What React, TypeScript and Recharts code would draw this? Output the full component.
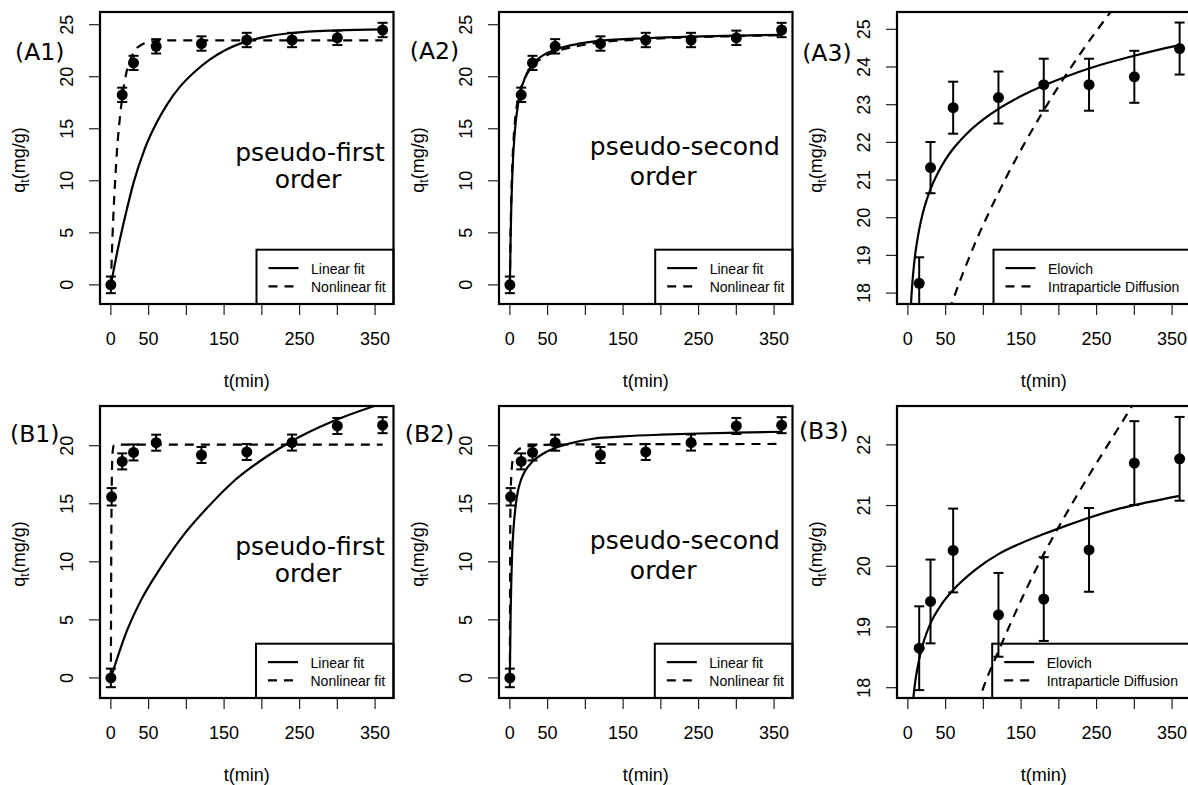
import { ComposedChart, ErrorBar, Line, Scatter, XAxis, YAxis } from 'recharts'

// measured points (t in min, q in mg/g) with error bar half-widths
const T_A = [0, 15, 30, 60, 120, 180, 240, 300, 360]
const Q_A = [0, 18.26, 21.33, 22.92, 23.19, 23.53, 23.53, 23.74, 24.49]
const ERR_A = [0.8, 0.69, 0.68, 0.69, 0.69, 0.69, 0.69, 0.69, 0.69]

const T_B = [0, 1, 15, 30, 60, 120, 180, 240, 300, 360]
const Q_B = [0, 15.6, 18.65, 19.42, 20.26, 19.2, 19.46, 20.27, 21.7, 21.77]
const ERR_B = [0.8, 0.75, 0.69, 0.69, 0.69, 0.69, 0.69, 0.69, 0.69, 0.69]

// fitted curves
const A1_LIN_T = [0, 10, 20, 30, 45, 60, 75, 90, 110, 130, 150, 180, 210, 240, 300, 360]
const A1_LIN_Q = [0, 3.7, 6.9, 9.8, 13.1, 15.5, 17.4, 18.9, 20.4, 21.6, 22.5, 23.4, 23.9, 24.2, 24.45, 24.55]
const A1_NL_T = [0, 2, 4, 6, 8, 10, 12, 15, 20, 25, 30, 35, 40, 50, 60, 80, 360]
const A1_NL_Q = [0, 4.3, 7.8, 10.4, 12.8, 14.6, 16.1, 18.0, 20.2, 21.5, 22.3, 22.8, 23.05, 23.34, 23.44, 23.5, 23.5]

const A2_LIN_T = [0, 1, 2, 3, 4, 6, 8, 11, 15, 20, 30, 45, 60, 90, 120, 180, 240, 300, 360]
const A2_LIN_Q = [0, 4.6, 7.8, 10.0, 11.8, 14.2, 15.8, 17.4, 18.8, 19.9, 21.2, 22.1, 22.6, 23.15, 23.45, 23.7, 23.85, 23.95, 24.03]
const A2_NL_T = [0, 1, 2, 3, 4, 6, 8, 11, 15, 20, 30, 45, 60, 90, 120, 180, 240, 300, 360]
const A2_NL_Q = [0, 5.2, 8.7, 11.0, 12.8, 15.1, 16.6, 17.9, 19.0, 19.9, 21.0, 21.9, 22.4, 22.95, 23.3, 23.6, 23.8, 23.9, 24.0]

const A3_ELO_T = [4, 5, 7, 10, 15, 20, 25, 30, 40, 50, 60, 70, 80, 100, 120, 150, 180, 210, 240, 270, 300, 330, 360]
const A3_ELO_Q = [17.66, 18.01, 18.52, 19.07, 19.69, 20.14, 20.48, 20.76, 21.2, 21.55, 21.83, 22.06, 22.27, 22.61, 22.89, 23.23, 23.51, 23.75, 23.96, 24.14, 24.3, 24.45, 24.58]
const A3_IPD_T = [55, 63, 75, 90, 107, 130, 155, 180, 213, 246, 270]
const A3_IPD_Q = [17.53, 18.0, 18.63, 19.37, 20.12, 21.06, 21.99, 22.85, 23.9, 24.85, 25.5]

const B1_LIN_T = [0, 10, 20, 40, 67, 98, 129, 162, 206, 237, 294, 346, 360]
const B1_LIN_Q = [0, 2.0, 3.85, 6.7, 9.6, 12.45, 14.75, 16.9, 19.05, 20.3, 22.1, 23.35, 23.65]
const B1_NL_T = [0, 0.5, 1, 1.5, 2, 3, 4, 6, 360]
const B1_NL_Q = [0, 10.5, 15.6, 18.0, 19.1, 19.8, 20.05, 20.1, 20.1]

const B2_LIN_T = [0, 1, 2, 3, 5, 8, 11, 15, 20, 30, 45, 60, 80, 110, 150, 200, 250, 300, 360]
const B2_LIN_Q = [0, 5.5, 8.6, 10.7, 13.0, 15.0, 16.2, 17.1, 17.8, 18.65, 19.35, 19.8, 20.2, 20.6, 20.8, 20.95, 21.05, 21.12, 21.2]
const B2_NL_T = [0, 0.5, 1, 2, 3, 5, 10, 20, 40, 60, 360]
const B2_NL_Q = [0, 12.5, 15.5, 17.5, 18.4, 19.1, 19.6, 19.9, 20.05, 20.1, 20.15]

const B3_ELO_T = [7, 8, 10, 15, 20, 30, 45, 60, 90, 120, 150, 180, 210, 240, 280, 320, 360]
const B3_ELO_Q = [17.8, 17.92, 18.12, 18.47, 18.72, 19.06, 19.38, 19.61, 19.95, 20.2, 20.38, 20.53, 20.67, 20.8, 20.95, 21.06, 21.16]
const B3_IPD_T = [92, 100, 120, 150, 180, 210, 240, 270, 300]
const B3_IPD_Q = [17.7, 18.0, 18.6, 19.44, 20.2, 20.87, 21.5, 22.1, 22.7]

const X_TICKS = [0, 50, 100, 150, 200, 250, 300, 350]
const X_LABELLED = [0, 50, 150, 250, 350]
const Y_TICKS_A = [0, 5, 10, 15, 20, 25]
const Y_TICKS_A3 = [18, 19, 20, 21, 22, 23, 24, 25]
const Y_TICKS_B = [0, 5, 10, 15, 20]
const Y_TICKS_B3 = [18, 19, 20, 21, 22]

const X_DOMAIN: [number, number] = [-14.4, 374.4]
const FONT = '"Liberation Sans", Arial, sans-serif'
const BIG_FONT = '"DejaVu Sans", sans-serif'
const W = 400
const H = 392
const BOX = { x: 100, y: 12, w: 293.5, h: 292 }

const curve = (ts: number[], qs: number[]) => ts.map((t, i) => ({ t, q: qs[i] }))
const points = (ts: number[], qs: number[], es: number[]) => ts.map((t, i) => ({ t, q: qs[i], err: es[i] }))

function XTick({ x, payload }: any) {
  if (!X_LABELLED.includes(payload.value)) return <g />
  return (
    <text x={x} y={345} textAnchor="middle" fontSize={18} fontFamily={FONT} fill="#000">
      {payload.value}
    </text>
  )
}

function YTick({ y, payload }: any) {
  return (
    <text x={73} y={y} transform={`rotate(-90, 73, ${y})`} textAnchor="middle" fontSize={18} fontFamily={FONT} fill="#000">
      {payload.value}
    </text>
  )
}

const Dot = (p: any) => <circle cx={p.cx} cy={p.cy} r={5.5} fill="#000" />

type PanelDef = {
  left: number
  top: number
  pts: { t: number; q: number; err: number }[]
  solid: { t: number; q: number }[]
  dashed: { t: number; q: number }[]
  yDomain: [number, number]
  yTicks: number[]
  tag: string
  tagX: number
  tagY: number
  note?: 'first' | 'second'
  legend: [string, string]
  legendLeft: number
}

const NOTES = {
  first: [
    { text: 'pseudo-first', x: 310, y: 161 },
    { text: 'order', x: 308, y: 187.5 },
  ],
  second: [
    { text: 'pseudo-second', x: 285.8, y: 155 },
    { text: 'order', x: 264.2, y: 184.5 },
  ],
}

const ptsA = points(T_A, Q_A, ERR_A)
const ptsB = points(T_B, Q_B, ERR_B)
const FIT_LEGEND: [string, string] = ['Linear fit', 'Nonlinear fit']
const DIFF_LEGEND: [string, string] = ['Elovich', 'Intraparticle Diffusion']

const PANELS: PanelDef[] = [
  { left: 0, top: 0, pts: ptsA, solid: curve(A1_LIN_T, A1_LIN_Q), dashed: curve(A1_NL_T, A1_NL_Q), yDomain: [-1.84, 26.22], yTicks: Y_TICKS_A, tag: '(A1)', tagX: 15, tagY: 60, note: 'first', legend: FIT_LEGEND, legendLeft: 256.5 },
  { left: 398.5, top: 0, pts: ptsA, solid: curve(A2_LIN_T, A2_LIN_Q), dashed: curve(A2_NL_T, A2_NL_Q), yDomain: [-1.84, 26.22], yTicks: Y_TICKS_A, tag: '(A2)', tagX: 10.8, tagY: 59, note: 'second', legend: FIT_LEGEND, legendLeft: 256.2 },
  { left: 796.8, top: 0, pts: ptsA, solid: curve(A3_ELO_T, A3_ELO_Q), dashed: curve(A3_IPD_T, A3_IPD_Q), yDomain: [17.71, 25.46], yTicks: Y_TICKS_A3, tag: '(A3)', tagX: 5.2, tagY: 60.5, legend: DIFF_LEGEND, legendLeft: 196.5 },
  { left: 0, top: 394, pts: ptsB, solid: curve(B1_LIN_T, B1_LIN_Q), dashed: curve(B1_NL_T, B1_NL_Q), yDomain: [-1.73, 23.42], yTicks: Y_TICKS_B, tag: '(B1)', tagX: 10, tagY: 48, note: 'first', legend: FIT_LEGEND, legendLeft: 256 },
  { left: 398.5, top: 394, pts: ptsB, solid: curve(B2_LIN_T, B2_LIN_Q), dashed: curve(B2_NL_T, B2_NL_Q), yDomain: [-1.73, 23.42], yTicks: Y_TICKS_B, tag: '(B2)', tagX: 5.8, tagY: 47.5, note: 'second', legend: FIT_LEGEND, legendLeft: 255.8 },
  { left: 796.8, top: 394, pts: ptsB, solid: curve(B3_ELO_T, B3_ELO_Q), dashed: curve(B3_IPD_T, B3_IPD_Q), yDomain: [17.83, 22.64], yTicks: Y_TICKS_B3, tag: '(B3)', tagX: 1.9, tagY: 45, legend: DIFF_LEGEND, legendLeft: 195.2 },
]

function Panel(p: PanelDef) {
  // drop points that fall fully below the axis; clip error bars at the box like R does
  const visible = p.pts
    .filter((d) => d.q + d.err >= p.yDomain[0])
    .map((d) => ({ ...d, range: [Math.min(d.err, d.q - p.yDomain[0]), d.err] }))
  const lt = 249.7
  const right = BOX.x + BOX.w
  return (
    <div style={{ position: 'absolute', left: p.left, top: p.top, width: W, height: H }}>
      <ComposedChart width={W} height={H} margin={{ top: BOX.y, right: W - BOX.x - BOX.w, bottom: 0, left: 0 }}>
        <XAxis
          type="number"
          dataKey="t"
          domain={X_DOMAIN}
          ticks={X_TICKS}
          interval={0}
          allowDataOverflow
          axisLine={false}
          tickSize={11}
          tickLine={{ stroke: '#222', strokeWidth: 1.2 }}
          tick={<XTick />}
          height={H - BOX.y - BOX.h}
          label={{ value: 't(min)', position: 'insideBottom', offset: 5, fontSize: 18, fill: '#000', fontFamily: FONT }}
        />
        <YAxis
          type="number"
          dataKey="q"
          domain={p.yDomain}
          ticks={p.yTicks}
          interval={0}
          allowDataOverflow
          axisLine={false}
          tickSize={11}
          tickLine={{ stroke: '#222', strokeWidth: 1.2 }}
          tick={<YTick />}
          width={BOX.x}
        />
        <Line data={p.solid} dataKey="q" type="monotone" stroke="#000" strokeWidth={2.2} dot={false} activeDot={false} isAnimationActive={false} />
        <Line data={p.dashed} dataKey="q" type="monotone" stroke="#000" strokeWidth={2.2} strokeDasharray="9 7" dot={false} activeDot={false} isAnimationActive={false} />
        <Scatter data={visible} dataKey="q" fill="#000" shape={Dot} isAnimationActive={false}>
          <ErrorBar dataKey="range" direction="y" width={5} strokeWidth={2} stroke="#000" />
        </Scatter>
      </ComposedChart>
      <svg width={W} height={H} style={{ position: 'absolute', left: 0, top: 0, pointerEvents: 'none' }}>
        <rect x={BOX.x} y={BOX.y} width={BOX.w} height={BOX.h} fill="none" stroke="#000" strokeWidth={2.2} />
        <text transform={`translate(24.5, 160) rotate(-90)`} textAnchor="middle" fontSize={18} fontFamily={FONT} fill="#000">
          q<tspan dy={4} fontSize={12.5}>t</tspan>
          <tspan dy={-4}>(mg/g)</tspan>
        </text>
        <text x={p.tagX} y={p.tagY} fontSize={23.5} fontFamily={BIG_FONT} fill="#000">
          {p.tag}
        </text>
        {p.note &&
          NOTES[p.note].map((n) => (
            <text key={n.text} x={n.x} y={n.y} textAnchor="middle" fontSize={25} fontFamily={BIG_FONT} fill="#000">
              {n.text}
            </text>
          ))}
        <rect x={p.legendLeft} y={lt} width={right - p.legendLeft} height={BOX.y + BOX.h - lt} fill="none" stroke="#000" strokeWidth={2} />
        <line x1={p.legendLeft + 12} x2={p.legendLeft + 42} y1={lt + 18.4} y2={lt + 18.4} stroke="#000" strokeWidth={2.2} />
        <line x1={p.legendLeft + 12} x2={p.legendLeft + 42} y1={lt + 36.7} y2={lt + 36.7} stroke="#000" strokeWidth={2.2} strokeDasharray="9 7" />
        <text x={p.legendLeft + 54.5} y={lt + 24.3} fontSize={14} fontFamily={FONT} fill="#000">
          {p.legend[0]}
        </text>
        <text x={p.legendLeft + 54.5} y={lt + 42.7} fontSize={14} fontFamily={FONT} fill="#000">
          {p.legend[1]}
        </text>
      </svg>
    </div>
  )
}

export default function App() {
  return (
    <div style={{ position: 'absolute', left: 0, top: 0, width: 1188, height: 785, overflow: 'hidden', background: '#fff' }}>
      {PANELS.map((p) => (
        <Panel key={p.tag} {...p} />
      ))}
    </div>
  )
}
